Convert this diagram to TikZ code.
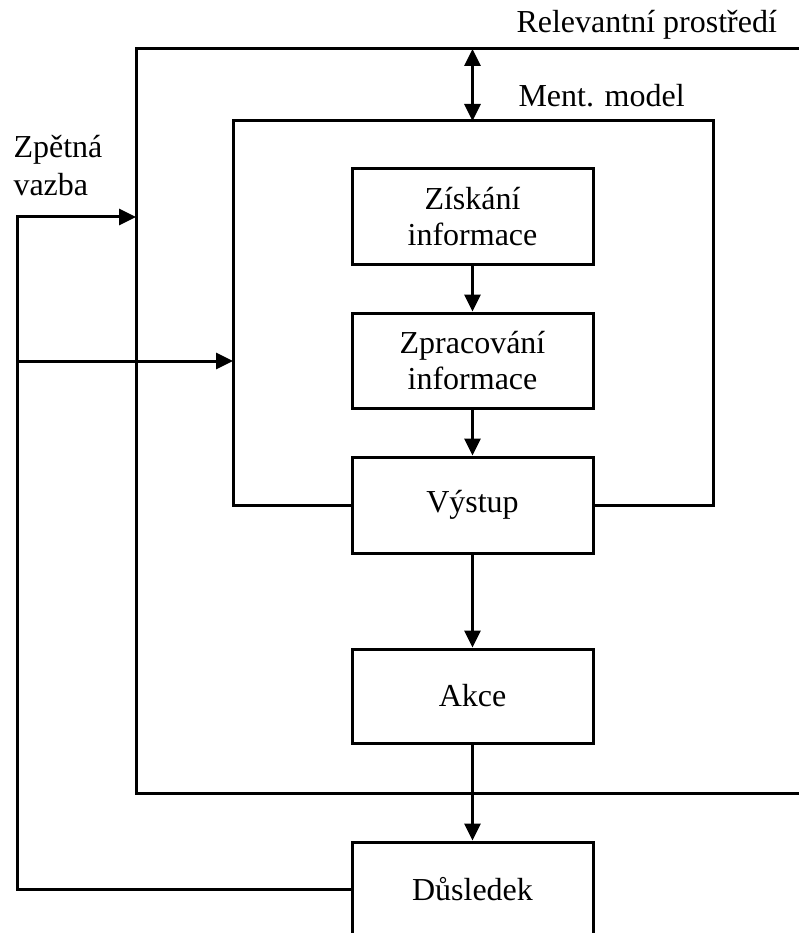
\documentclass[tikz,border=0pt]{standalone}
\usepackage{fontspec}
\setmainfont{Liberation Serif}
\usetikzlibrary{arrows.meta}
\begin{document}
\begin{tikzpicture}[x=1pt,y=-1pt,
  line width=3pt,
  txt/.style={font=\fontsize{32}{36}\selectfont, inner sep=0pt},
  stagebox/.style={draw, txt, align=center, minimum width=241pt, minimum height=95pt},
  tip/.tip={Triangle[length=17pt,width=16pt]},
  flow/.style={-tip},
  both/.style={tip-tip}]
\useasboundingbox (0,0) rectangle (799,933);
\clip (0,0) rectangle (799,933);

% stages of the process
\node[stagebox] (zisk)  at (472.5,216.5) {Získání\\informace};
\node[stagebox] (zprac) at (472.5,360.5) {Zpracování\\informace};
\node[stagebox, minimum height=96pt] (vys) at (472.5,505) {Výstup};
\node[stagebox, minimum height=94pt] (akce) at (472.5,696) {Akce};
\node[stagebox, minimum height=94pt] (dus) at (472.5,889) {Důsledek};

% labels
\node[txt, anchor=base west] (envlab) at (515,33) {Relevantní prostředí};
\node[txt, anchor=base west] (mentlab) at (517,107) {Ment. model};
\node[txt, font=\fontsize{32}{38}\selectfont, align=left, anchor=base west] (fblab) at (12,196) {Zpětná\\vazba};

% relevant environment frame (open to the right)
\coordinate (envtop) at (472.5,49);
\draw (805,49) -- (136,49) -- (136,793) -- (805,793);

% mental model frame, closed by the output stage
\coordinate (menttop) at (472.5,121);
\draw (vys.west) -- (233,505) |- (713,121) -- (713,505) -- (vys.east);

% interaction between environment and mental model
\draw[both] (envtop) -- (menttop);

% main flow
\draw[flow] (zisk) -- (zprac);
\draw[flow] (zprac) -- (vys);
\draw[flow] (vys) -- (akce);
\draw[flow] (akce) -- (dus);

% feedback paths
\coordinate (fbcorner) at (17,889);
\coordinate (fbtop) at (17,217);
\coordinate (fbmid) at (17,361);
\coordinate (envin) at (136,217);
\coordinate (mentin) at (233,361);
\draw[flow] (dus.west) -- (fbcorner) -- (fbtop) -- (envin);
\draw[flow] (fbmid) -- (mentin);
\end{tikzpicture}
\end{document}
